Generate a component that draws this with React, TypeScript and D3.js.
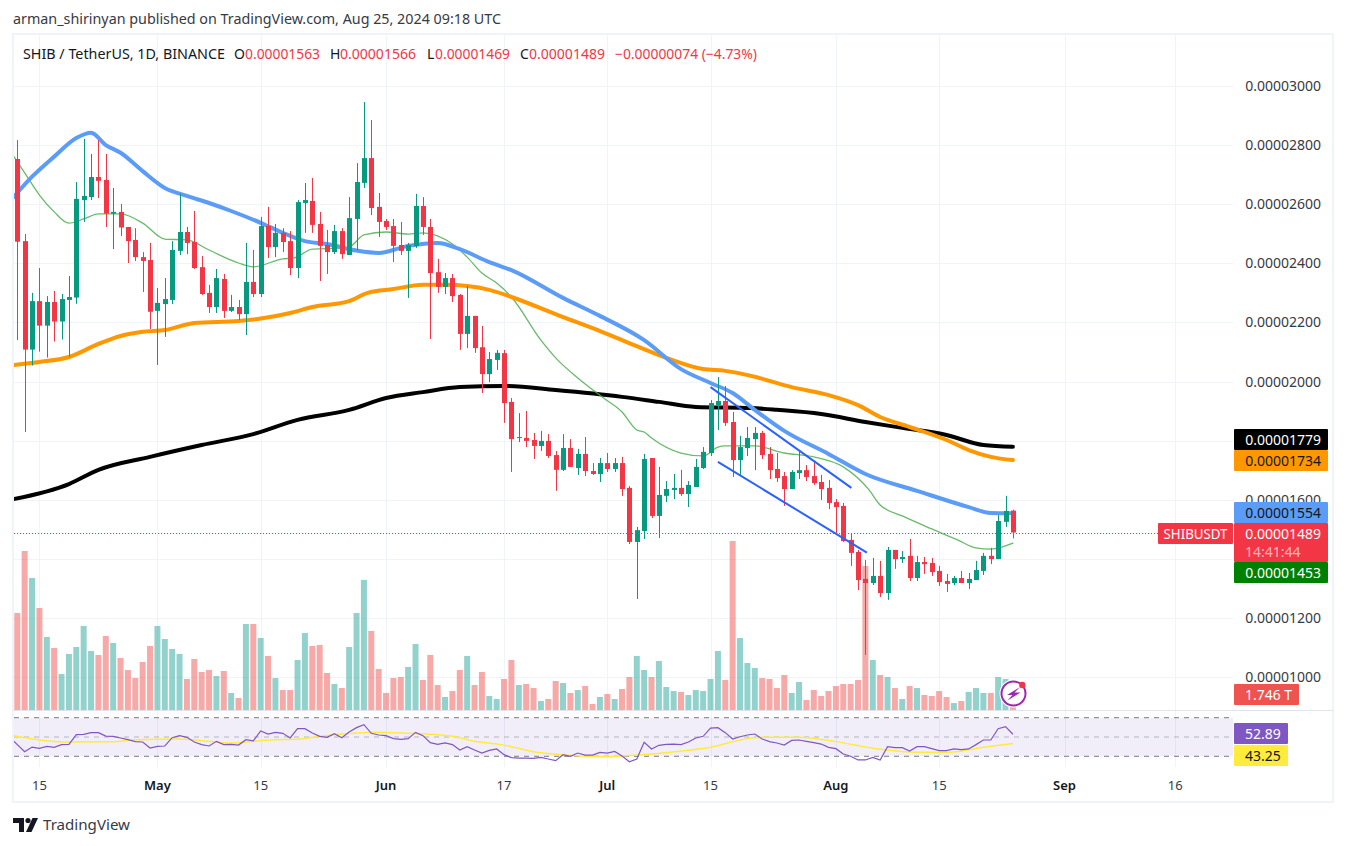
import React from "react";
import * as d3 from "d3";

// prices in units of 1e-8 USDT; candle 0 = 12 Apr 2024
const opens = [2753,2475,2108,2272,2189,2269,2203,2276,2284,2614,2624,2692,2682,2568,2574,2523,2479,2421,2411,2239,2262,2276,2442,2506,2472,2387,2300,2252,2347,2239,2252,2228,2337,2296,2526,2455,2503,2475,2384,2604,2611,2533,2462,2438,2509,2428,2550,2672,2756,2591,2543,2526,2462,2442,2459,2594,2523,2370,2320,2350,2293,2161,2222,2116,2025,2073,2096,1931,1809,1809,1802,1782,1799,1751,1701,1775,1707,1755,1697,1687,1724,1704,1724,1640,1457,1494,1741,1545,1613,1633,1640,1619,1643,1707,1758,1920,1934,1863,1734,1775,1805,1826,1755,1704,1680,1636,1690,1700,1680,1660,1640,1592,1579,1464,1423,1332,1318,1342,1284,1430,1399,1410,1335,1389,1386,1359,1325,1318,1335,1318,1328,1359,1410,1399,1525,1563];
const highs = [2817,2499,2300,2384,2289,2306,2296,2357,2675,2821,2770,2817,2770,2655,2601,2523,2519,2438,2469,2316,2350,2475,2635,2523,2577,2425,2327,2381,2364,2293,2276,2469,2445,2557,2591,2533,2519,2509,2614,2672,2689,2574,2513,2530,2519,2624,2739,2946,2885,2638,2550,2550,2540,2469,2635,2624,2550,2415,2367,2364,2296,2323,2222,2188,2100,2107,2107,1944,1893,1900,1826,1833,1822,1765,1822,1805,1772,1812,1724,1741,1758,1741,1745,1646,1508,1755,1741,1711,1663,1687,1701,1663,1738,1778,1937,2015,1985,1897,1816,1846,1846,1833,1778,1758,1694,1700,1765,1717,1731,1684,1667,1602,1589,1484,1430,1396,1403,1393,1440,1430,1426,1467,1410,1406,1403,1376,1349,1342,1359,1352,1393,1420,1437,1548,1613,1566];
const lows = [2140,1829,2054,2101,2081,2135,2142,2084,2263,2540,2614,2621,2523,2448,2492,2401,2408,2303,2178,2056,2151,2262,2428,2431,2381,2293,2232,2232,2215,2235,2208,2157,2286,2286,2418,2421,2438,2360,2350,2503,2503,2340,2364,2431,2415,2428,2445,2655,2563,2489,2513,2404,2428,2283,2452,2496,2144,2300,2296,2269,2107,2113,2097,1961,1998,2039,1860,1694,1795,1778,1738,1765,1741,1630,1697,1711,1684,1680,1684,1660,1694,1694,1613,1450,1264,1467,1538,1470,1592,1602,1613,1575,1643,1704,1748,1836,1850,1677,1684,1748,1700,1738,1670,1660,1579,1636,1670,1663,1650,1599,1568,1481,1457,1376,1294,1075,1311,1271,1261,1366,1386,1325,1325,1349,1342,1308,1288,1311,1318,1298,1328,1345,1382,1399,1508,1469];
const closes = [2473,2108,2272,2189,2269,2203,2279,2286,2618,2628,2692,2679,2568,2574,2521,2475,2421,2408,2236,2266,2279,2445,2506,2469,2384,2296,2252,2350,2239,2252,2228,2337,2296,2526,2455,2503,2472,2384,2607,2614,2530,2459,2438,2509,2431,2553,2675,2756,2587,2540,2523,2459,2442,2462,2594,2523,2367,2320,2350,2289,2161,2222,2113,2025,2076,2097,1927,1805,1812,1799,1782,1799,1748,1701,1775,1711,1755,1697,1687,1724,1704,1724,1636,1457,1497,1738,1545,1616,1636,1640,1619,1650,1711,1762,1927,1934,1860,1734,1778,1809,1826,1751,1700,1673,1636,1694,1700,1677,1656,1636,1589,1575,1460,1420,1328,1318,1342,1284,1430,1399,1406,1335,1389,1382,1355,1321,1315,1335,1318,1332,1362,1410,1399,1528,1562,1489];
// volume in trillions
const volumes = [10.59,17.36,14.41,11.14,7.97,6.77,3.93,6.12,6.88,9.17,6.44,6.01,8.08,7.32,5.68,4.37,3.49,5.24,6.99,9.17,7.75,6.66,6.12,3.39,5.57,4.15,4.37,3.71,4.26,1.86,1.31,9.39,9.39,7.86,5.9,3.49,2.18,2.18,5.46,8.41,6.99,7.1,4.04,2.84,2.4,6.88,10.59,14.2,8.63,4.48,1.86,3.49,3.6,4.7,7.21,3.28,6.01,2.73,1.42,2.07,4.37,5.9,2.73,4.15,1.53,1.2,3.39,5.46,2.73,2.84,2.4,0.98,1.2,3.17,2.95,1.86,2.18,2.62,0.66,1.42,1.75,1.2,2.29,3.6,5.9,4.37,3.6,5.35,2.51,2.07,1.97,1.64,2.18,2.07,3.39,6.44,3.28,18.45,7.86,5.13,4.59,3.49,3.39,2.4,3.82,1.86,3.06,1.09,2.18,1.53,2.07,2.62,2.84,2.84,3.28,15.72,5.46,3.82,3.6,2.4,1.2,2.62,2.4,1.64,1.53,2.07,1.42,0.76,0.98,1.97,2.4,1.86,1.86,3.6,3.39,1.746];
// RSI per day
const rsiValues = [42.1,34.8,39.6,38.3,40.3,39.3,42.1,42.4,52.4,52.8,54.5,54.5,51,50.7,49,47.2,45.2,44.8,38.6,40.3,40.7,49.3,51.4,49.7,44.8,42.1,40.7,45.5,42.1,42.4,41.7,47.2,45.9,56.2,53.1,54.8,53.8,49,58.6,58.6,54.1,50.7,49.7,53.5,49.3,55.2,59.7,62.8,53.8,52.1,51.4,48.3,47.6,48.3,54.8,51.4,44.1,42.4,43.8,42.1,36.5,40,36.5,33.4,36.2,37.6,31.7,28.6,28.2,28.2,27.9,28.9,27.2,25.5,31.7,30,33.4,31.3,31.3,34.1,33.4,35.1,30.3,24.4,27.2,44.5,37.6,41.4,42.4,42.7,42.1,44.8,49,50.7,59.3,59.7,54.5,47.9,50.3,52.1,53.1,47.9,45.2,43.8,41.7,46.5,46.9,45.5,44.1,42.7,39.3,37.9,32.4,30,26.2,26.2,28.9,26.2,40,38.9,38.9,35.5,40,40,37.9,35.8,35.8,37.6,36.9,37.6,42.1,46.9,46.9,58.6,60.7,52.89];
const rsiPrevious = 49.7;
const rsiMaDays = [-1,3,7,13,16,22,27,29,33,35,38,41,46,49,52,59,62,65.5,67,70,74,80,82,86,90,94,98,101,106,111,117,122,126,131,135];
const rsiMaValues = [52,46.9,44.8,45.2,47.2,47.9,44.8,43.8,46.2,47.2,47.6,50.7,54.1,54.8,54.1,50.7,45.5,42.1,40,34.8,31.7,29.6,30.3,32.4,35.5,39.3,46.9,49.7,49.7,45.2,37.2,34.1,34.1,39.3,43.25];

// moving averages, read at knots (day index, price)
const blueDays = [-0.5,2,5,8,10,12,14,17,20,23,26,29,33,36,39,42,46,49,53,57,60,64,67,74,79,85,90,94,97,100,104,110,115,122,129,132,135];
const blueValues = [2624,2693,2761,2824,2842,2800,2774,2712,2655,2628,2604,2577,2537,2503,2475,2465,2443,2435,2459,2469,2448,2404,2377,2283,2222,2140,2042,1995,1961,1904,1833,1755,1687,1630,1575,1555,1554];
const orangeDays = [-0.5,3,7,11,14,17,20,24,30,33,37,40,45,47.5,51,55,58,61,64,67,74,78,82,88,93,96,99.5,105,110,114,117,121,126,129,132,135];
const orangeValues = [2056,2066,2083,2127,2154,2168,2174,2198,2205,2213,2232,2252,2272,2300,2313,2327,2327,2323,2310,2286,2218,2181,2140,2080,2042,2036,2019,1981,1954,1920,1880,1846,1802,1768,1745,1734];
const blackDays = [-0.5,7,11,18,25,32,38,45,50,55,60,66,73,82,87,92,99.5,103,109,115,120,126,131,135];
const blackValues = [1602,1653,1701,1745,1785,1822,1870,1904,1944,1964,1981,1985,1971,1948,1931,1914,1910,1904,1890,1863,1843,1819,1785,1779];
const greenDays = [-0.5,1,3,5,7,9,11,14,17,20,23,26,30,32,36,37.5,40,44,45,47,50,53,55,59,61,63,65,67,71,73,76,79.5,82,84,85,86,90,93,95,96,100,104,108,112,115.5,117,120,124,127.5,130,132,135];
const greenValues = [2763,2706,2631,2574,2536,2550,2567,2567,2536,2482,2479,2445,2401,2388,2415,2418,2448,2452,2455,2496,2506,2499,2503,2465,2421,2367,2333,2286,2140,2080,2012,1944,1897,1836,1829,1809,1758,1748,1778,1782,1782,1758,1745,1711,1633,1582,1545,1501,1464,1437,1433,1453];

const trendUpperDays = [94, 113.1];
const trendUpperValues = [1981, 1640];
const trendLowerDays = [95, 115.2];
const trendLowerValues = [1728, 1421];

const priceTicks = [3000,2800,2600,2400,2200,2000,1800,1600,1400,1200,1000];
const hiddenPriceTexts = [1800, 1400]; // covered by the value tags in the reference
const timeTickDays = [3,19,33,50,66,80,94,111,125,142,157];
const timeTickLabels = ["15","May","15","Jun","17","Jul","15","Aug","15","Sep","16"];
const boldTicks = ["May","Jun","Jul","Aug","Sep"];

const lastLabels = [
  { text: "0.00001779", bg: "#000000", fg: "#ffffff", top: 429 },
  { text: "0.00001734", bg: "#ff9800", fg: "#131722", top: 450 },
  { text: "0.00001554", bg: "#5b9cf6", fg: "#131722", top: 502 },
  { text: "0.00001453", bg: "#008000", fg: "#ffffff", top: 562 },
];

const FONT = "'Noto Sans', sans-serif";
const UP = "#089981";
const DOWN = "#f23645";
const X0 = 14;
const XR = 1233;

const x = d3.scaleLinear().domain([0, 135]).range([17.3, 1012.9]);
const y = d3.scaleLinear().domain([1000, 3000]).range([677, 86]);
const vy = d3.scaleLinear().domain([0, 18.45]).range([710, 541]);
const ry = d3.scaleLinear().domain([30, 70]).range([756.3, 717.7]);

function maPath(days: number[], values: number[]) {
  const pts = days.map((d, i) => [x(d), y(values[i])] as [number, number]);
  return d3.line().curve(d3.curveMonotoneX)(pts) || "";
}

export default function App() {
  const rsiPts: [number, number][] = [[x(-1), ry(rsiPrevious)], ...rsiValues.map((v, i) => [x(i), ry(v)] as [number, number])];
  const rsiPath = d3.line()(rsiPts) || "";
  const rsiMaPath = d3.line().curve(d3.curveMonotoneX)(rsiMaDays.map((d, i) => [x(d), ry(rsiMaValues[i])] as [number, number])) || "";
  return (
    <svg width={1346} height={846} viewBox="0 0 1346 846" style={{ position: "absolute", left: 0, top: 0, display: "block", background: "#fff" }} fontFamily={FONT}>
      <defs>
        <clipPath id="plot"><rect x={X0} y={35} width={XR - X0} height={675} /></clipPath>
        <clipPath id="rsi"><rect x={X0} y={711} width={XR - X0} height={56} /></clipPath>
      </defs>
      <text x={13} y={24} fontSize={14} fill="#363a45" textLength={488} lengthAdjust="spacingAndGlyphs">arman_shirinyan published on TradingView.com, Aug 25, 2024 09:18 UTC</text>

      {/* grid */}
      {timeTickDays.map((d) => (
        <line key={d} x1={Math.round(x(d)) + 0.5} x2={Math.round(x(d)) + 0.5} y1={35} y2={767} stroke="#f0f3fa" />
      ))}
      {priceTicks.map((p) => (
        <line key={p} x1={X0} x2={XR} y1={Math.round(y(p)) + 0.5} y2={Math.round(y(p)) + 0.5} stroke="#f0f3fa" />
      ))}
      <rect x={13} y={34} width={1320} height={768} fill="none" stroke="#f0f3fa" strokeWidth={2} />

      {/* volume */}
      <g clipPath="url(#plot)">
        {volumes.map((v, i) => (
          <rect key={i} x={x(i) - 3} width={6} y={vy(v)} height={710 - vy(v)} fill={closes[i] >= opens[i] ? "rgba(38,166,154,0.5)" : "rgba(239,83,80,0.5)"} />
        ))}
        <g fill="none" strokeLinejoin="round" strokeLinecap="round">
          <path d={maPath(blackDays, blackValues)} stroke="#000" strokeWidth={4} />
          <path d={maPath(greenDays, greenValues)} stroke="#4caf50" strokeWidth={1.3} opacity={0.85} />
          <path d={maPath(orangeDays, orangeValues)} stroke="#ff9800" strokeWidth={4} />
          <path d={maPath(blueDays, blueValues)} stroke="#5b9cf6" strokeWidth={4} />
        </g>
        {/* candles */}
        {opens.map((o, i) => {
          const c = closes[i];
          const col = c >= o ? UP : DOWN;
          const top = y(Math.max(o, c));
          const h = Math.max(1, Math.abs(y(o) - y(c)));
          const cx = Math.round(x(i));
          return (
            <g key={i} fill={col}>
              <rect x={cx} width={1} y={y(highs[i])} height={y(lows[i]) - y(highs[i])} />
              <rect x={cx - 2} width={5} y={top} height={h} />
            </g>
          );
        })}
        <g fill="none" stroke="#2962ff" strokeWidth={2}>
          <path d={d3.line()(trendUpperDays.map((d, i) => [x(d), y(trendUpperValues[i])] as [number, number])) || ""} />
          <path d={d3.line()(trendLowerDays.map((d, i) => [x(d), y(trendLowerValues[i])] as [number, number])) || ""} />
        </g>
      </g>

      {/* last-price line */}
      <line x1={X0} x2={1158} y1={533.5} y2={533.5} stroke={DOWN} strokeDasharray="1 2" />

      {/* lightning logo */}
      <g>
        <circle cx={1013.5} cy={693.5} r={14} fill="#fff" />
        <circle cx={1013.5} cy={693.5} r={12} fill="#fff" stroke="#9c27b0" strokeWidth={2} />
        <path d="M1020 687 L1007 695 L1012.5 695 L1007.5 700.5 L1020.5 692.5 L1014.5 692.5 Z" fill="#9c27b0" />
        <circle cx={1022.3} cy={685} r={3.2} fill="#f23645" />
      </g>

      {/* separator */}
      <line x1={13} x2={1333} y1={710.5} y2={710.5} stroke="#e0e3eb" />

      {/* RSI */}
      <rect x={X0} y={ry(70)} width={XR - X0} height={ry(30) - ry(70)} fill="rgba(126,87,194,0.1)" />
      <line x1={X0} x2={XR} y1={ry(70)} y2={ry(70)} stroke="#787b86" strokeDasharray="5 5" />
      <line x1={X0} x2={XR} y1={ry(50)} y2={ry(50)} stroke="#787b86" strokeOpacity={0.5} strokeDasharray="5 5" />
      <line x1={X0} x2={XR} y1={ry(30)} y2={ry(30)} stroke="#787b86" strokeDasharray="5 5" />
      <g clipPath="url(#rsi)" fill="none">
        <path d={rsiMaPath} stroke="#ffeb3b" strokeWidth={1.5} />
        <path d={rsiPath} stroke="#7e57c2" strokeWidth={1.2} />
      </g>

      {/* time axis */}
      {timeTickDays.map((d, i) => (
        <text key={d} x={x(d)} y={790} fontSize={13} textAnchor="middle" fill={boldTicks.includes(timeTickLabels[i]) ? "#131722" : "#363a45"} fontWeight={boldTicks.includes(timeTickLabels[i]) ? 600 : 400}>{timeTickLabels[i]}</text>
      ))}

      {/* price axis */}
      {priceTicks.filter((p) => !hiddenPriceTexts.includes(p)).map((p) => (
        <text key={p} x={1321} y={y(p) + 5} fontSize={14} textAnchor="end" fill="#363a45">{(p / 1e8).toFixed(8)}</text>
      ))}
      {lastLabels.map((l) => (
        <g key={l.text}>
          <rect x={1234} y={l.top} width={94} height={21} rx={1} fill={l.bg} />
          <text x={1321} y={l.top + 15.5} fontSize={14} textAnchor="end" fill={l.fg}>{l.text}</text>
        </g>
      ))}
      <rect x={1234} y={523} width={94} height={39} rx={1} fill={DOWN} />
      <text x={1321} y={538.5} fontSize={14} textAnchor="end" fill="#fff">0.00001489</text>
      <text x={1245} y={557} fontSize={14} fill="#fff" fillOpacity={0.65}>14:41:44</text>
      <rect x={1158} y={523} width={75} height={21} rx={1} fill={DOWN} />
      <text x={1195.5} y={538.5} fontSize={14} textAnchor="middle" fill="#fff" textLength={64} lengthAdjust="spacingAndGlyphs">SHIBUSDT</text>
      <rect x={1234} y={684} width={65} height={21} rx={1} fill="#ef5350" />
      <text x={1245} y={699.5} fontSize={14} fill="#fff" textLength={47} lengthAdjust="spacingAndGlyphs">1.746 T</text>
      <rect x={1234} y={723} width={54} height={21} rx={1} fill="#7e57c2" />
      <text x={1245} y={738.5} fontSize={14} fill="#fff">52.89</text>
      <rect x={1234} y={745} width={54} height={21} rx={1} fill="#ffeb3b" />
      <text x={1245} y={760.5} fontSize={14} fill="#131722">43.25</text>

      {/* legend */}
      <g fontSize={14}>
        <text x={23} y={59} fill="#131722" textLength={202} lengthAdjust="spacingAndGlyphs">SHIB / TetherUS, 1D, BINANCE</text>
        <text x={234} y={59} fill="#131722">O</text>
        <text x={245} y={59} fill={DOWN} textLength={75} lengthAdjust="spacingAndGlyphs">0.00001563</text>
        <text x={330} y={59} fill="#131722">H</text>
        <text x={340} y={59} fill={DOWN} textLength={76} lengthAdjust="spacingAndGlyphs">0.00001566</text>
        <text x={427} y={59} fill="#131722">L</text>
        <text x={435} y={59} fill={DOWN} textLength={75} lengthAdjust="spacingAndGlyphs">0.00001469</text>
        <text x={520} y={59} fill="#131722">C</text>
        <text x={529} y={59} fill={DOWN} textLength={76} lengthAdjust="spacingAndGlyphs">0.00001489</text>
        <text x={615} y={59} fill={DOWN} textLength={142} lengthAdjust="spacingAndGlyphs">−0.00000074 (−4.73%)</text>
      </g>

      {/* footer logo */}
      <g fill="#131722">
        <path d="M13 818 H24 V832 H19 V823 H13 Z" />
        <circle cx={28} cy={820.5} r={2.6} />
        <path d="M32.5 818 H38 L31.5 832 H26 Z" />
      </g>
      <text x={43} y={830} fontSize={15} fill="#363a45" textLength={87} lengthAdjust="spacingAndGlyphs">TradingView</text>
    </svg>
  );
}
